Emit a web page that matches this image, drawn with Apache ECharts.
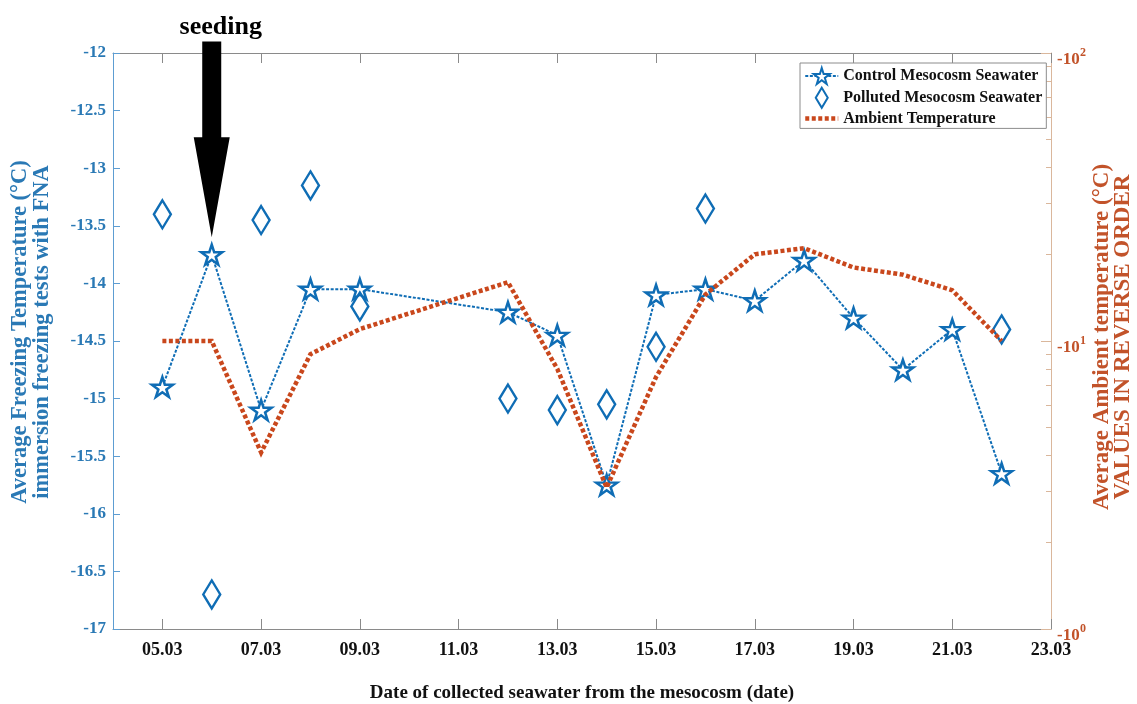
<!DOCTYPE html>
<html>
<head>
<meta charset="utf-8">
<script src="https://cdn.jsdelivr.net/npm/echarts@6/dist/echarts.min.js"></script>
<style>
  html, body { margin: 0; padding: 0; background: #ffffff; }
  #chart { width: 1137px; height: 704px; }
</style>
</head>
<body>
<div id="chart"></div>
<script>
// Day categories along the date axis (one per day)
const dates = ['04.03', '05.03', '06.03', '07.03', '08.03', '09.03', '10.03', '11.03', '12.03', '13.03',
               '14.03', '15.03', '16.03', '17.03', '18.03', '19.03', '20.03', '21.03', '22.03', '23.03'];

// Control mesocosm: average freezing temperature (°C)
const controlDates = ['05.03', '06.03', '07.03', '08.03', '09.03', '12.03', '13.03', '14.03',
                      '15.03', '16.03', '17.03', '18.03', '19.03', '20.03', '21.03', '22.03'];
const controlTemp = [-14.9, -13.75, -15.1, -14.05, -14.05, -14.25, -14.45, -15.75,
                     -14.1, -14.05, -14.15, -13.8, -14.3, -14.75, -14.4, -15.65];

// Polluted mesocosm: average freezing temperature (°C)
const pollutedDates = ['05.03', '06.03', '07.03', '08.03', '09.03', '12.03', '13.03', '14.03',
                       '15.03', '16.03', '22.03'];
const pollutedTemp = [-13.4, -16.7, -13.45, -13.15, -14.2, -15.0, -15.1, -15.05, -14.55, -13.35, -14.4];

// Average ambient temperature (°C), shown on a reversed log scale
const ambientDates = ['05.03', '06.03', '07.03', '08.03', '09.03', '12.03', '13.03', '14.03',
                      '15.03', '16.03', '17.03', '18.03', '19.03', '20.03', '21.03', '22.03'];
const ambientTemp = [-10, -10, -4.1, -9, -11, -16, -8, -3.1, -7.5, -14.5, -20, -21, -18, -17, -15, -10];

// Right axis tick magnitudes
const ambientMajorTicks = [1, 10, 100];
const ambientMinorTicks = [2, 3, 4, 5, 6, 7, 8, 9, 20, 30, 40, 50, 60, 70, 80, 90];

// Seeding annotation: date and arrow extent on the freezing-temperature scale
const seedingDate = '06.03';
const seedingArrow = [-11.9, -13.6];

const BLUE = '#0f6db5';
const BLUE_LABEL = '#2a79b5';
const BLUE_AXIS = '#5d9dd2';
const RED = '#c9471c';
const RED_LABEL = '#c2532a';
const RED_AXIS = '#dab79c';
const GRAY = '#8a8a8a';
const FONT = 'Liberation Serif';

const STAR = 'path://M0,-1L0.2245,-0.309L0.951,-0.309L0.3633,0.118L0.588,0.809L0,0.382L-0.588,0.809L-0.3633,0.118L-0.951,-0.309L-0.2245,-0.309Z';
const DIAMOND = 'path://M0,-1L0.6,0L0,1L-0.6,0Z';

const oddDay = (index) => index % 2 === 1;

const chart = echarts.init(document.getElementById('chart'), null, { renderer: 'canvas' });

const option = {
  animation: false,
  backgroundColor: '#ffffff',
  textStyle: { fontFamily: FONT },
  grid: { left: 113, right: 86, top: 53, bottom: 75, containLabel: false, outerBoundsMode: 'none' },
  legend: {
    orient: 'vertical',
    left: 800,
    top: 63,
    padding: [4, 4, 2, 3],
    itemWidth: 33,
    itemHeight: 20,
    itemGap: 1.7,
    borderColor: '#8c8c8c',
    borderWidth: 1,
    backgroundColor: '#ffffff',
    textStyle: { fontFamily: FONT, fontWeight: 'bold', fontSize: 16, color: '#111111' },
    data: [
      { name: 'Control Mesocosm Seawater' },
      { name: 'Polluted Mesocosm Seawater', icon: DIAMOND },
      { name: 'Ambient Temperature', itemStyle: { opacity: 0 }, lineStyle: { width: 4.5 } }
    ]
  },
  xAxis: [
    {
      type: 'category',
      data: dates,
      boundaryGap: false,
      position: 'bottom',
      name: 'Date of collected seawater from the mesocosm (date)',
      nameLocation: 'middle',
      nameGap: 55,
      nameTextStyle: { fontFamily: FONT, fontWeight: 'bold', fontSize: 19, color: '#111111' },
      axisLine: { lineStyle: { color: GRAY, width: 1 } },
      axisTick: { inside: true, length: 10, interval: oddDay, lineStyle: { color: GRAY } },
      axisLabel: { interval: oddDay, margin: 12, fontFamily: FONT, fontWeight: 'bold', fontSize: 18, color: '#111111' },
      splitLine: { show: false }
    },
    {
      type: 'category',
      data: dates,
      boundaryGap: false,
      position: 'top',
      axisLine: { lineStyle: { color: GRAY, width: 1 } },
      axisTick: { inside: true, length: 10, interval: oddDay, lineStyle: { color: GRAY } },
      axisLabel: { show: false },
      splitLine: { show: false }
    }
  ],
  yAxis: [
    {
      type: 'value',
      position: 'left',
      min: -17,
      max: -12,
      interval: 0.5,
      name: 'Average Freezing Temperature (°C)\nimmersion freezing tests with FNA',
      nameLocation: 'middle',
      nameGap: 60,
      nameTextStyle: { fontFamily: FONT, fontWeight: 'bold', fontSize: 22.5, lineHeight: 22, color: BLUE_LABEL, padding: [0, 0, 0, 18] },
      axisLine: { show: true, lineStyle: { color: BLUE_AXIS, width: 1 } },
      axisTick: { show: true, inside: true, length: 7, lineStyle: { color: BLUE_AXIS } },
      axisLabel: { margin: 7, fontFamily: FONT, fontWeight: 'bold', fontSize: 17, color: BLUE_LABEL },
      splitLine: { show: false }
    },
    {
      // minor ticks and exponents of the reversed log scale
      type: 'log',
      logBase: 10,
      position: 'right',
      min: 1,
      max: 100,
      axisLine: { show: true, lineStyle: { color: RED_AXIS, width: 1 } },
      axisTick: { show: true, inside: true, length: 5, customValues: ambientMinorTicks, lineStyle: { color: RED_AXIS } },
      axisLabel: {
        customValues: ambientMajorTicks,
        margin: 29,
        formatter: (v) => String(Math.round(Math.log10(v))),
        fontFamily: FONT, fontWeight: 'bold', fontSize: 12, color: RED_LABEL,
        verticalAlign: 'middle'
      },
      splitLine: { show: false }
    },
    {
      // major ticks, base labels and axis title
      type: 'log',
      logBase: 10,
      position: 'right',
      min: 1,
      max: 100,
      name: 'Average Ambient temperature (°C)\nVALUES IN REVERSE ORDER',
      nameLocation: 'middle',
      nameRotate: 90,
      nameGap: 39,
      nameTextStyle: { fontFamily: FONT, fontWeight: 'bold', fontSize: 23, lineHeight: 21, color: RED_LABEL, padding: [0, 0, 0, 8] },
      axisLine: { show: false },
      axisTick: { show: true, inside: true, length: 10, customValues: ambientMajorTicks, lineStyle: { color: RED_AXIS } },
      axisLabel: {
        margin: 6,
        customValues: ambientMajorTicks,
        formatter: () => '-10',
        fontFamily: FONT, fontWeight: 'bold', fontSize: 17, color: RED_LABEL,
        verticalAlign: 'top',
        lineHeight: 14
      },
      splitLine: { show: false }
    }
  ],
  series: [
    {
      name: 'Control Mesocosm Seawater',
      type: 'line',
      xAxisIndex: 0,
      yAxisIndex: 0,
      z: 3,
      data: controlDates.map((d, i) => [d, controlTemp[i]]),
      symbol: STAR,
      symbolSize: [21, 20],
      showAllSymbol: true,
      lineStyle: { color: BLUE, width: 2, type: [3, 1.6] },
      itemStyle: { color: '#ffffff', borderColor: BLUE, borderWidth: 2.5 }
    },
    {
      name: 'Polluted Mesocosm Seawater',
      type: 'scatter',
      xAxisIndex: 0,
      yAxisIndex: 0,
      z: 4,
      data: pollutedDates.map((d, i) => [d, pollutedTemp[i]]),
      symbol: DIAMOND,
      symbolSize: [17, 28],
      itemStyle: { color: 'rgba(255,255,255,0)', borderColor: BLUE, borderWidth: 2.5, opacity: 1 }
    },
    {
      name: 'Ambient Temperature',
      type: 'line',
      xAxisIndex: 0,
      yAxisIndex: 1,
      z: 5,
      data: ambientDates.map((d, i) => [d, Math.abs(ambientTemp[i])]),
      symbol: 'none',
      lineStyle: { color: RED, width: 4.5, type: [4, 2.5], cap: 'butt', join: 'miter' },
      itemStyle: { color: RED }
    }
  ]
};

chart.setOption(option);

// Seeding arrow and label, anchored to the seeding date on the freezing-temperature scale
const tail = chart.convertToPixel({ xAxisIndex: 0, yAxisIndex: 0 }, [seedingDate, seedingArrow[0]]);
const tip = chart.convertToPixel({ xAxisIndex: 0, yAxisIndex: 0 }, [seedingDate, seedingArrow[1]]);
const ax = tip[0];
const shaftHalf = 9.5, headHalf = 18, headLen = 100;
chart.setOption({
  graphic: [
    {
      type: 'polygon',
      z: 100,
      shape: {
        points: [
          [ax - shaftHalf, tail[1]], [ax + shaftHalf, tail[1]],
          [ax + shaftHalf, tip[1] - headLen], [ax + headHalf, tip[1] - headLen],
          [ax, tip[1]],
          [ax - headHalf, tip[1] - headLen], [ax - shaftHalf, tip[1] - headLen]
        ]
      },
      style: { fill: '#000000' }
    },
    {
      type: 'text',
      z: 100,
      x: ax + 9,
      y: tail[1] - 14,
      style: {
        text: 'seeding',
        fontFamily: FONT,
        fontWeight: 'bold',
        fontSize: 26,
        fill: '#000000',
        align: 'center',
        verticalAlign: 'middle'
      }
    }
  ]
});
</script>
</body>
</html>
